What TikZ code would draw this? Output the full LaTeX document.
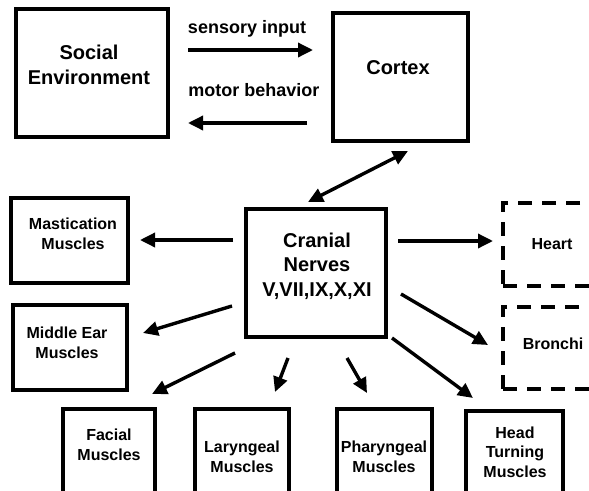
\documentclass[tikz,border=0pt]{standalone}
\usepackage{fontspec}
\setmainfont{Liberation Sans}
\usetikzlibrary{arrows.meta}
\begin{document}
\begin{tikzpicture}[x=1pt,y=-1pt,
  box/.style={draw, line width=3.3pt, inner sep=0pt, outer sep=0pt},
  dbox/.style={draw, line width=3.6pt, dash pattern=on 14pt off 10pt, inner sep=0pt},
  big/.style={align=center, font=\fontsize{20}{24.5}\selectfont\bfseries, inner sep=0pt},
  mid/.style={align=center, font=\fontsize{18}{22}\selectfont\bfseries, inner sep=0pt},
  sml/.style={align=center, font=\fontsize{16}{19.7}\selectfont\bfseries, inner sep=0pt},
  arr/.style={line width=3.4pt, -{Triangle[length=15pt,width=14pt]}},
  darr/.style={line width=3.4pt, {Triangle[length=15pt,width=14pt]}-{Triangle[length=15pt,width=14pt]}}
]
\useasboundingbox (0,0) rectangle (589,490);

% boxes
\node[box, minimum width=152pt, minimum height=128pt] (soc) at (92,73) {};
\node[box, minimum width=135pt, minimum height=128pt] (cor) at (400.5,77) {};
\node[box, minimum width=140pt, minimum height=128pt] (cra) at (316,273) {};
\node[box, minimum width=117pt, minimum height=85pt] (mas) at (69.5,240.5) {};
\node[box, minimum width=114pt, minimum height=85pt] (mid) at (70,347.5) {};
\node[dbox, minimum width=117pt, minimum height=83pt] (hea) at (561.5,244.5) {};
\node[dbox, minimum width=117pt, minimum height=82pt] (bro) at (561.5,348) {};
\node[box, minimum width=92pt, minimum height=90pt] (fac) at (109,454) {};
\node[box, minimum width=94pt, minimum height=90pt] (lar) at (242,454) {};
\node[box, minimum width=95pt, minimum height=90pt] (pha) at (384.5,454) {};
\node[box, minimum width=97pt, minimum height=88pt] (hdt) at (514.5,455) {};

% texts
\node[big] (socT) at (89,65) {Social\\Environment};
\node[big] (corT) at (398,68) {Cortex};
\node[big] (craT) at (317,266) {Cranial\\Nerves\\V,VII,IX,X,XI};
\node[mid] (sen) at (247,29) {sensory input};
\node[mid] (mot) at (254,90) {motor behavior};
\node[sml] (masT) at (73,234) {Mastication\\Muscles};
\node[sml] (midT) at (67,343) {Middle Ear\\Muscles};
\node[sml] (heaT) at (552,244) {Heart};
\node[sml] (broT) at (553,344) {Bronchi};
\node[sml] (facT) at (109,445) {Facial\\Muscles};
\node[sml] (larT) at (242,457) {Laryngeal\\Muscles};
\node[sml] (phaT) at (384,457) {Pharyngeal\\Muscles};
\node[sml] (hdtT) at (515,452) {Head\\Turning\\Muscles};

% connector end points
\coordinate (s1) at (188,50);  \coordinate (s2) at (313,50);
\coordinate (m1) at (307,123); \coordinate (m2) at (188,123);
\coordinate (d1) at (308,202); \coordinate (d2) at (408,151);
\coordinate (a1) at (233,240); \coordinate (a2) at (140,240);
\coordinate (e1) at (232,306); \coordinate (e2) at (143,333);
\coordinate (f1) at (235,353); \coordinate (f2) at (152,394);
\coordinate (l1) at (288,358); \coordinate (l2) at (275,392);
\coordinate (p1) at (347,358); \coordinate (p2) at (367,393);
\coordinate (t1) at (392,338); \coordinate (t2) at (473,398);
\coordinate (b1) at (401,294); \coordinate (b2) at (488,345);
\coordinate (h1) at (398,241); \coordinate (h2) at (493,241);

\draw[arr] (s1) -- (s2);
\draw[arr] (m1) -- (m2);
\draw[darr] (d1) -- (d2);
\draw[arr] (a1) -- (a2);
\draw[arr] (e1) -- (e2);
\draw[arr] (f1) -- (f2);
\draw[arr] (l1) -- (l2);
\draw[arr] (p1) -- (p2);
\draw[arr] (t1) -- (t2);
\draw[arr] (b1) -- (b2);
\draw[arr] (h1) -- (h2);
\end{tikzpicture}
\end{document}
